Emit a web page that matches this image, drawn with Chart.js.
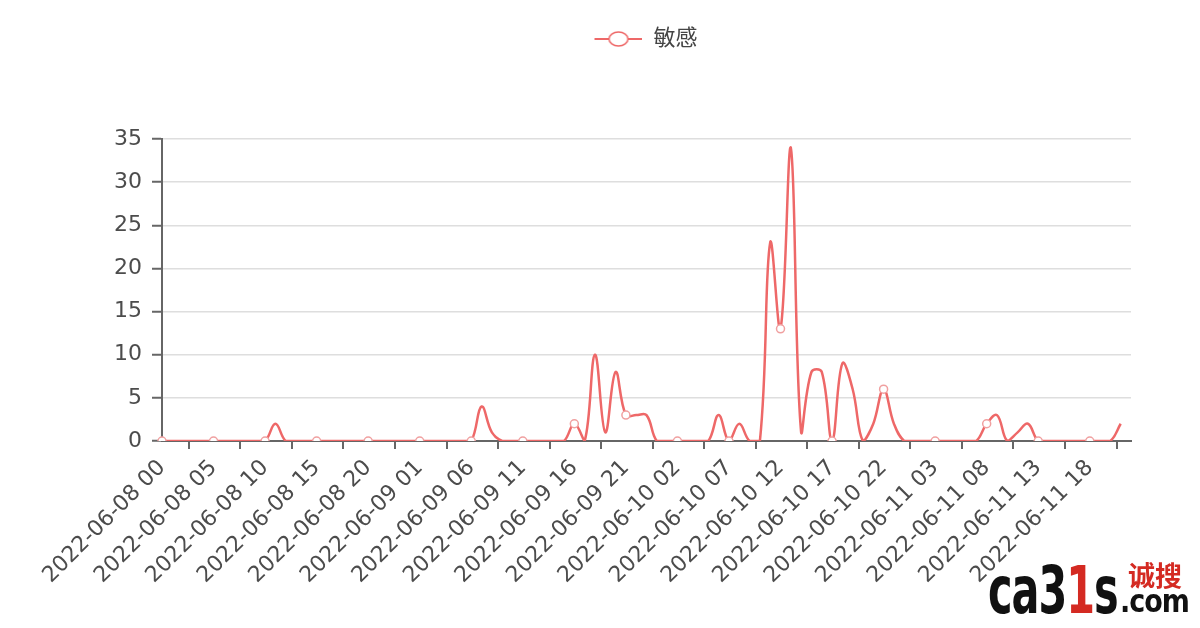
<!DOCTYPE html>
<html>
<head>
<meta charset="utf-8">
<script src="https://cdn.jsdelivr.net/npm/chart.js@4.4.1/dist/chart.umd.min.js"></script>
<style>
  html, body { margin: 0; padding: 0; background: #fff; }
  #wrap { position: relative; width: 1200px; height: 628px; overflow: hidden; }
  #logo { position: absolute; left: 988px; top: 552px; height: 76px; width: 212px; }
  #logo .big { position: absolute; left: 0; top: 0; font: bold 46px "DejaVu Sans Condensed", "DejaVu Sans"; color: #111;
    transform: scale(1, 1.42); transform-origin: 0 0; letter-spacing: -1px; }
  #logo .red { color: #d42a22; }
  #logo .com { position: absolute; left: 132px; top: 30px; font: bold 27px "DejaVu Sans"; color: #111;
    transform: scale(1, 1.2); transform-origin: 0 0; letter-spacing: -1px; }
  #logo .cn { position: absolute; left: 140px; top: 3px; font: bold 27px "Noto Sans CJK SC"; color: #d42a22; }
</style>
</head>
<body>
<div id="wrap">
  <canvas id="myChart" width="1200" height="628"></canvas>
  <div id="logo"><span class="big">ca3<span class="red">1</span>s</span><span class="com">.com</span><span class="cn">诚搜</span></div>
</div>
<script>
// hourly buckets, 2022-06-08 00 .. 2022-06-11 22
const days = ['2022-06-08', '2022-06-09', '2022-06-10', '2022-06-11'];
const hoursPerDay = [24, 24, 24, 23];
const seriesName = '敏感';

// counts per hour, one row per day
const sensitive = [
  0, 0, 0, 0, 0, 0, 0, 0, 0, 0, 0, 2, 0, 0, 0, 0, 0, 0, 0, 0, 0, 0, 0, 0,
  0, 0, 0, 0, 0, 0, 0, 4, 1, 0, 0, 0, 0, 0, 0, 0, 2, 0, 10, 1, 8, 3, 3, 3,
  0, 0, 0, 0, 0, 0, 3, 0, 2, 0, 0, 23, 13, 34, 1, 8, 8, 0, 9, 6, 0, 2, 6, 2,
  0, 0, 0, 0, 0, 0, 0, 0, 2, 3, 0, 1, 2, 0, 0, 0, 0, 0, 0, 0, 0, 2
];
const yMax = 35;
const yStep = 5;
const labelEvery = 5;

const labels = [];
days.forEach((d, i) => {
  for (let h = 0; h < hoursPerDay[i]; h++) {
    labels.push(d + ' ' + String(h).padStart(2, '0'));
  }
});

const lineColor = '#ee6868';
const axisColor = '#666';
const textColor = '#4c4c4c';
const fontFamily = '"DejaVu Sans", "Noto Sans CJK SC", sans-serif';

// legend icon: short line with a hollow circle on it
// (transparent strip on the left nudges the legend right, like the original)
const iconShift = 61;
const legendIcon = document.createElement('canvas');
legendIcon.width = 48 + iconShift;
legendIcon.height = 22;
(function () {
  const c = legendIcon.getContext('2d');
  c.strokeStyle = lineColor;
  c.lineWidth = 2;
  c.beginPath();
  c.moveTo(iconShift, 11);
  c.lineTo(iconShift + 48, 11);
  c.stroke();
  c.fillStyle = '#fff';
  c.lineWidth = 1.5;
  c.beginPath();
  c.ellipse(iconShift + 24, 11, 9.5, 7, 0, 0, Math.PI * 2);
  c.fill();
  c.stroke();
})();

// push the plot down below the legend
const legendGap = {
  id: 'legendGap',
  beforeInit(chart) {
    const fit = chart.legend.fit;
    chart.legend.fit = function () {
      fit.call(this);
      this.height += 79;
    };
  }
};

// small tick marks under the x axis, between the labelled hours
const xTickMarks = {
  id: 'xTickMarks',
  afterDraw(chart) {
    const x = chart.scales.x;
    const ctx = chart.ctx;
    ctx.save();
    ctx.strokeStyle = axisColor;
    ctx.lineWidth = 2;
    for (let v = 2.6; v < labels.length - 1; v += labelEvery) {
      const px = Math.round(x.getPixelForValue(v));
      ctx.beginPath();
      ctx.moveTo(px, x.top);
      ctx.lineTo(px, x.top + 8);
      ctx.stroke();
    }
    ctx.restore();
  }
};

Chart.defaults.font.family = fontFamily;
Chart.defaults.color = textColor;

const ctx = document.getElementById('myChart').getContext('2d');
const myChart = new Chart(ctx, {
  type: 'line',
  data: {
    labels: labels,
    datasets: [{
      label: seriesName,
      data: sensitive,
      borderColor: lineColor,
      borderWidth: 2.5,
      tension: 0.4,
      fill: false,
      pointRadius: c => (c.dataIndex % labelEvery === 0 ? 4 : 0),
      pointBackgroundColor: '#fff',
      pointBorderColor: '#f0a0a0',
      pointBorderWidth: 1.5
    }]
  },
  options: {
    responsive: false,
    animation: false,
    devicePixelRatio: 1,
    layout: { padding: { left: 100, right: 69, top: 0, bottom: 0 } },
    plugins: {
      legend: {
        labels: {
          usePointStyle: true,
          pointStyle: legendIcon,
          pointStyleWidth: 48 + iconShift,
          padding: 28,
          color: '#444',
          font: { size: 22 }
        }
      },
      tooltip: { enabled: false }
    },
    scales: {
      x: {
        grid: { display: false },
        border: { display: true, color: axisColor, width: 2 },
        ticks: {
          autoSkip: false,
          minRotation: 45,
          maxRotation: 45,
          padding: 6,
          font: { size: 22 }
        },
        afterBuildTicks: axis => {
          axis.ticks = axis.ticks.filter(t => t.value % labelEvery === 0);
        },
        afterFit: scale => {
          scale.height = 187;
          scale.paddingLeft = 0;
          scale.paddingRight = 0;
        }
      },
      y: {
        min: 0,
        max: yMax,
        grid: { color: '#dedede', lineWidth: 1.5, tickLength: 10, tickColor: axisColor, tickWidth: 2 },
        border: { display: true, color: axisColor, width: 2 },
        ticks: { stepSize: yStep, padding: 10, font: { size: 22 } },
        afterFit: scale => { scale.width = 62; }
      }
    }
  },
  plugins: [legendGap, xTickMarks]
});
</script>
</body>
</html>
